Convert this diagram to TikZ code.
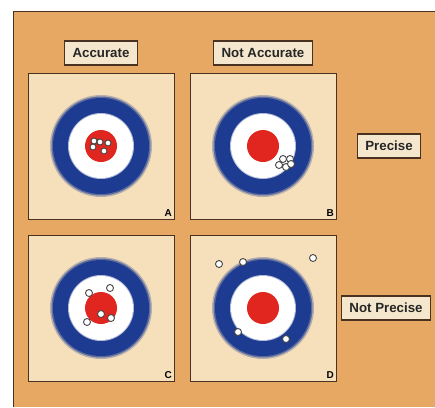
\documentclass[tikz,border=0pt]{standalone}
\usepackage{fontspec}
\setmainfont{Liberation Sans}
\usetikzlibrary{positioning}

\definecolor{bgorange}{HTML}{E6A862}
\definecolor{boardtan}{HTML}{F6DFBB}
\definecolor{tagfill}{HTML}{F4E7CD}
\definecolor{darkbrown}{HTML}{4A3222}
\definecolor{ringblue}{HTML}{1D3B90}
\definecolor{ringred}{HTML}{E0261E}

\begin{document}
\begin{tikzpicture}[x=1pt, y=-1pt, node distance=162pt, auto,
    panel/.style={rectangle, draw=darkbrown, line width=1pt, fill=boardtan, minimum size=146pt, inner sep=0pt},
    tag/.style={rectangle, draw=darkbrown, line width=1.5pt, fill=tagfill, minimum height=24pt, inner xsep=8pt,
        font=\fontsize{13.3}{15}\selectfont\bfseries, text=black!85},
    corner/.style={anchor=south east, inner sep=2.5pt, font=\fontsize{10}{12}\selectfont\bfseries},
    hit/.style={fill=white, draw=gray!55!black, line width=0.9pt}]
    \useasboundingbox (0,0) rectangle (435,407);
    \fill[bgorange] (13,11) rectangle (435,407);
    \draw[darkbrown, line width=1pt] (13,407) -- (13,11) -- (435,11);

    \node (pa) [panel] at (101,146) {};
    \node (pb) [panel, right of=pa] {};
    \node (pc) [panel, below of=pa] {};
    \node (pd) [panel, right of=pc] {};

    \node (acc) [tag, above of=pa, node distance=93pt] {Accurate};
    \node (nacc) [tag, above of=pb, node distance=93pt] {Not Accurate};
    \node (prec) [tag, right of=pb, node distance=126pt] {Precise};
    \node (nprec) [tag, right of=pd, node distance=123pt] {Not Precise};

    \node (la) [corner] at (pa.south east) {A};
    \node (lb) [corner] at (pb.south east) {B};
    \node (lc) [corner] at (pc.south east) {C};
    \node (ld) [corner] at (pd.south east) {D};

    % the four targets
    \foreach \p in {pa,pb,pc,pd} {
        \begin{scope}[shift={(\p.center)}]
            \fill[ringblue!30!boardtan] (0,0) circle[radius=51pt];
            \fill[ringblue!70!boardtan] (0,0) circle[radius=49.5pt];
            \fill[ringblue] (0,0) circle[radius=48pt];
            \fill[white!65!ringblue] (0,0) circle[radius=33pt];
            \fill[white] (0,0) circle[radius=32pt];
            \fill[ringred] (0,0) circle[radius=16pt];
        \end{scope}
    }

    % shots
    \begin{scope}[shift={(pa.center)}]
        \foreach \dx/\dy in {-7/-5, -1/-4, 7/-3, -8/1, 3/5}
            \filldraw[hit] (\dx,\dy) circle[radius=3pt];
    \end{scope}
    \begin{scope}[shift={(pb.center)}]
        \foreach \dx/\dy in {20/13, 27/13, 16/19, 23/21, 28/18}
            \filldraw[hit] (\dx,\dy) circle[radius=3.5pt];
    \end{scope}
    \begin{scope}[shift={(pc.center)}]
        \foreach \dx/\dy in {-12/-15, 9/-20, 0/6, 10/10, -14/14}
            \filldraw[hit] (\dx,\dy) circle[radius=3.5pt];
    \end{scope}
    \begin{scope}[shift={(pd.center)}]
        \foreach \dx/\dy in {-44/-44, -20/-46, 50/-50, -25/24, 23/31}
            \filldraw[hit] (\dx,\dy) circle[radius=3.5pt];
    \end{scope}
\end{tikzpicture}
\end{document}
